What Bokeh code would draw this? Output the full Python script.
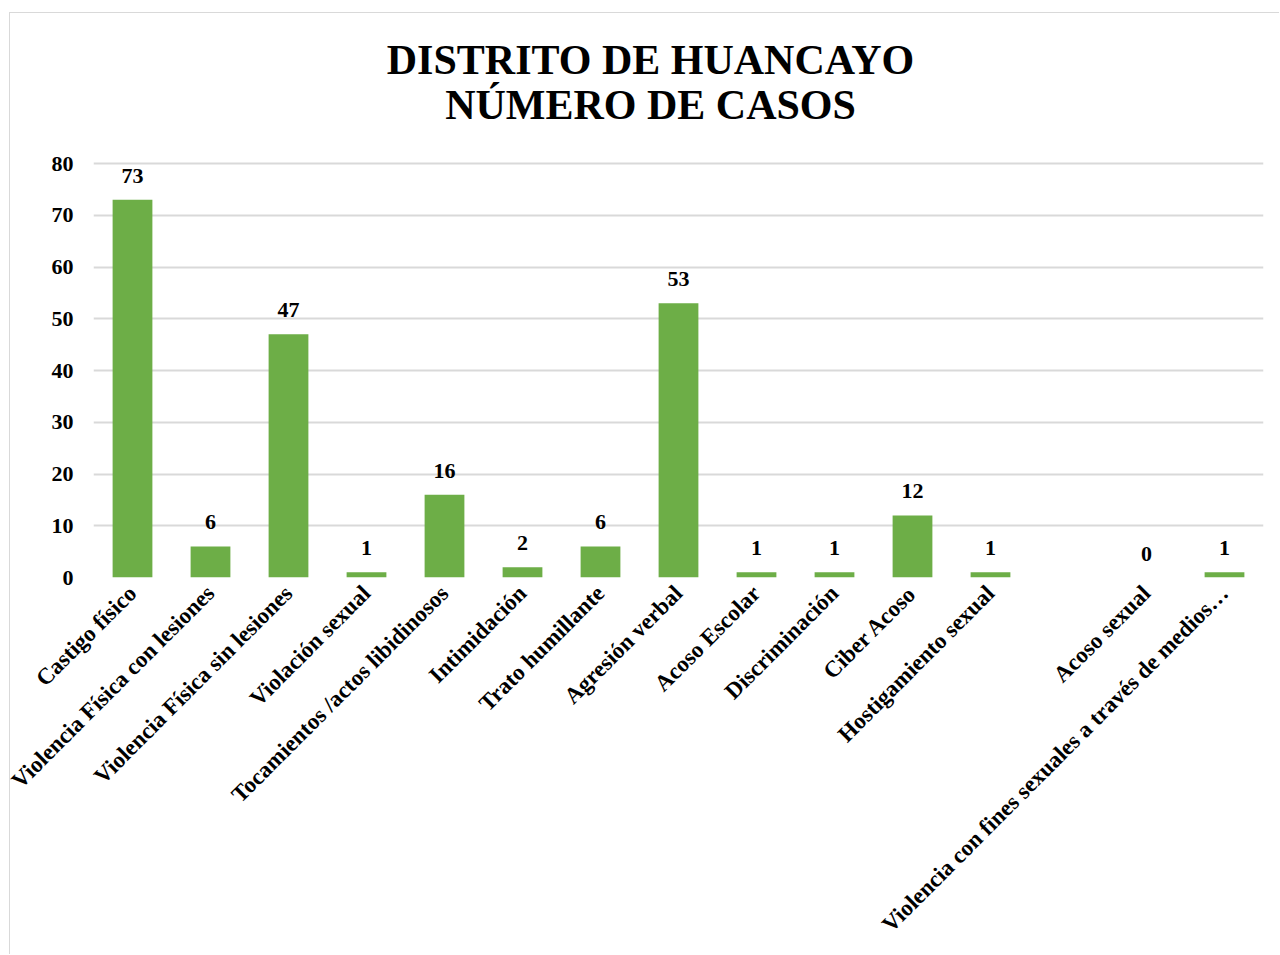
import math
from bokeh.plotting import figure
from bokeh.models import ColumnDataSource, LabelSet, FactorRange
from bokeh.core.properties import value
from bokeh.embed import file_html
from bokeh.resources import INLINE

categories = [
    "Castigo físico",
    "Violencia Física con lesiones",
    "Violencia Física sin lesiones",
    "Violación sexual",
    "Tocamientos /actos libidinosos",
    "Intimidación",
    "Trato humillante",
    "Agresión verbal",
    "Acoso Escolar",
    "Discriminación",
    "Ciber Acoso",
    "Hostigamiento sexual",
    " ",
    "Acoso sexual",
    "Violencia con fines sexuales a través de medios…",
]
values = [73, 6, 47, 1, 16, 2, 6, 53, 1, 1, 12, 1, float("nan"), 0, 1]
y_ticks = [0, 10, 20, 30, 40, 50, 60, 70, 80]
title_lines = ["DISTRITO DE HUANCAYO", "NÚMERO DE CASOS"]

FONT = "Liberation Serif"

# page offsets of the canvas (margin + 1px border of the chart box)
OX, OY = 10, 13
W, H = 1280 - OX, 955 - OY
# layout in page pixels
FRAME_LEFT, FRAME_RIGHT = 93, 1263
FRAME_TOP, ZERO_Y, EIGHTY_Y = OY, 577, 163
y_end = 80 * (ZERO_Y - FRAME_TOP) / (ZERO_Y - EIGHTY_Y)
px_per_unit = (ZERO_Y - EIGHTY_Y) / 80.0

labels = ["" if (isinstance(v, float) and math.isnan(v)) else str(int(v)) for v in values]
lab_y = [0 if l == "" else v for l, v in zip(labels, values)]
source = ColumnDataSource(data=dict(cat=categories, val=values, lab=labels, laby=lab_y))

p = figure(
    x_range=FactorRange(*categories, range_padding=0),
    y_range=(0, y_end),
    width=W,
    height=H,
    output_backend="svg",
    toolbar_location=None,
    min_border_left=FRAME_LEFT - OX,
    min_border_right=W - (FRAME_RIGHT - OX),
    min_border_top=FRAME_TOP - OY,
    min_border_bottom=H - (ZERO_Y - OY),
)
p.styles = {
    "margin-left": "9px",
    "margin-top": "12px",
    "border-left": "1px solid #d9d9d9",
    "border-top": "1px solid #d9d9d9",
}
p.title = None
p.outline_line_color = None
p.background_fill_color = "white"
p.border_fill_color = "white"

p.vbar(x="cat", top="val", width=0.51, source=source,
       fill_color="#6dae47", line_color=None)

p.add_layout(LabelSet(x="cat", y="laby", text="lab", source=source,
                      text_align="center", text_baseline="alphabetic",
                      y_offset=17, text_font=FONT, text_font_style="bold",
                      text_font_size="22px", text_color="black"))

# two-line chart title, centred at page x ~650 (anchor category centre + offset)
title_src = ColumnDataSource(data=dict(
    x=[categories[7], categories[7]],
    y=[(ZERO_Y - 59) / px_per_unit, (ZERO_Y - 104) / px_per_unit],
    t=title_lines,
))
p.text(x="x", y="y", text="t", source=title_src, x_offset=-28,
       text_align="center", text_baseline="middle",
       text_font=value(FONT), text_font_style="bold", text_font_size="42px",
       text_color="black")

p.xgrid.grid_line_color = None
p.ygrid.grid_line_color = "#d9d9d9"
p.ygrid.grid_line_width = 2
p.yaxis.ticker = y_ticks

for ax in (p.xaxis[0], p.yaxis[0]):
    ax.axis_line_color = None
    ax.major_tick_line_color = None
    ax.minor_tick_line_color = None
    ax.major_tick_out = 0
    ax.major_tick_in = 0
    ax.major_label_text_font = FONT
    ax.major_label_text_font_style = "bold"
    ax.major_label_text_color = "black"

p.yaxis.major_label_text_font_size = "22px"
p.yaxis.major_label_standoff = 20
p.xaxis.major_label_text_font_size = "23px"
p.xaxis.major_label_orientation = math.pi / 4
p.xaxis.major_label_standoff = 12

open("out.html", "w").write(file_html(p, INLINE))
